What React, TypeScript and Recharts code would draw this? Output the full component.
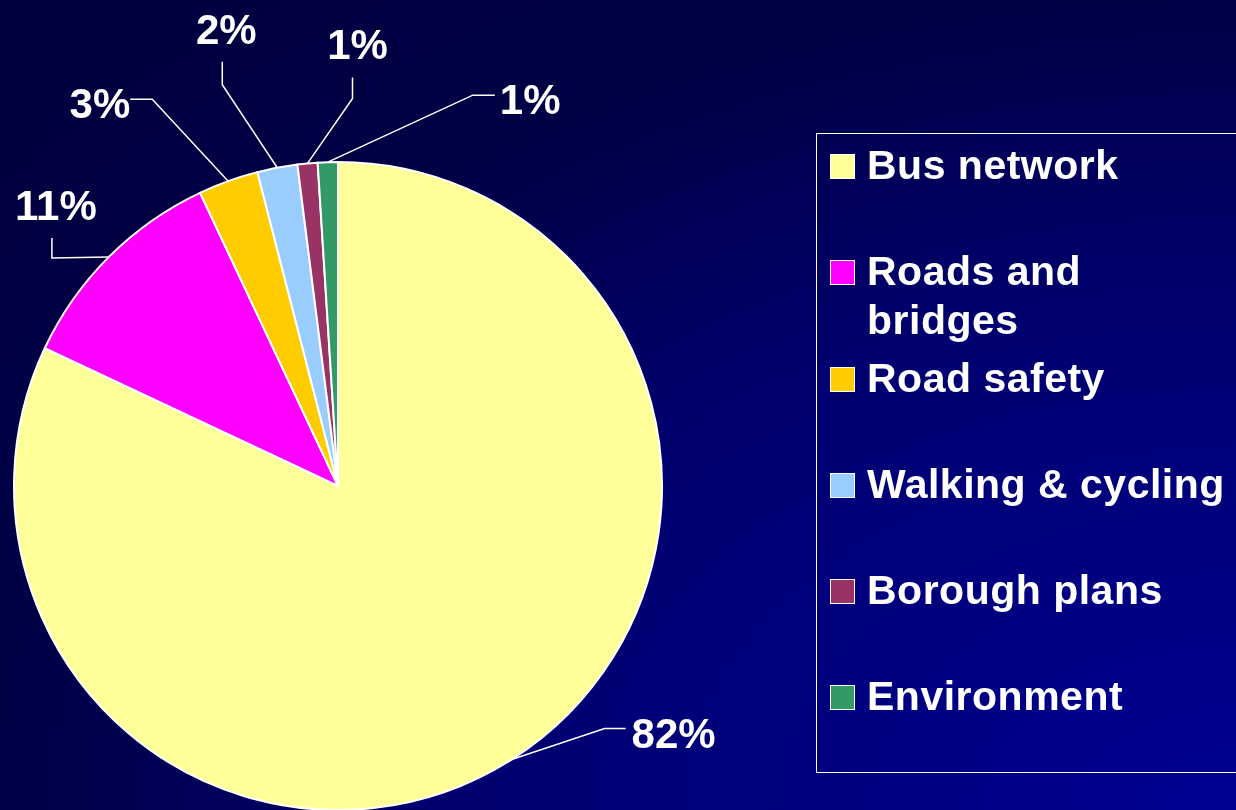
import React from "react";
import { PieChart, Pie, Cell, Legend } from "recharts";

// Share of spending by programme (pie + boxed legend on the right)

const categories = [
  "Bus network",
  "Roads and bridges",
  "Road safety",
  "Walking & cycling",
  "Borough plans",
  "Environment",
];
const shares = [82, 11, 3, 2, 1, 1];
const colors = ["#FFFF99", "#FF00FF", "#FFCC00", "#99CCFF", "#993366", "#339966"];

// Leader-line layout, relative to the point on the rim at each slice's mid angle:
// elbow, end of leader, text position and anchor.
const labelLayout = [
  { elbow: [93, -31], end: [114, -31], text: [120, -26], anchor: "start" },
  { elbow: [-57, 1], end: [-57, -19], text: [-53, -51], anchor: "middle" },
  { elbow: [-76, -82], end: [-98, -82], text: [-98, -78], anchor: "end" },
  { elbow: [-55, -83], end: [-55, -106], text: [-51, -138], anchor: "middle" },
  { elbow: [45, -65], end: [45, -86], text: [50, -119], anchor: "middle" },
  { elbow: [145, -67], end: [167, -67], text: [172, -63], anchor: "start" },
];

const FONT = "Arial, 'Liberation Sans', sans-serif";
const RADIAN = Math.PI / 180;

const data = categories.map((name, i) => ({ name, value: shares[i] }));

function renderLabel(props: any) {
  const { cx, cy, midAngle, outerRadius, percent, index } = props;
  const ax = cx + outerRadius * Math.cos(-midAngle * RADIAN);
  const ay = cy + outerRadius * Math.sin(-midAngle * RADIAN);
  const l = labelLayout[index];
  const pts = [
    [ax, ay],
    [ax + l.elbow[0], ay + l.elbow[1]],
    [ax + l.end[0], ay + l.end[1]],
  ];
  return (
    <g key={`lbl-${index}`}>
      <polyline
        points={pts.map((p) => p.join(",")).join(" ")}
        fill="none"
        stroke="#FFFFFF"
        strokeWidth={1.5}
      />
      <text
        x={ax + l.text[0]}
        y={ay + l.text[1]}
        textAnchor={l.anchor as any}
        dominantBaseline="central"
        fill="#FFFFFF"
        fontFamily={FONT}
        fontWeight="bold"
        fontSize={42}
      >
        {`${Math.round(percent * 100)}%`}
      </text>
    </g>
  );
}

function renderLegend() {
  return (
    <div
      style={{
        width: 430,
        height: 640,
        border: "1.5px solid #FFFFFF",
        boxSizing: "border-box",
        fontFamily: FONT,
      }}
    >
      {categories.map((name, i) => (
        <div
          key={name}
          style={{
            height: 106.3,
            display: "flex",
            alignItems: "flex-start",
            paddingTop: 7,
            boxSizing: "border-box",
          }}
        >
          <div
            style={{
              width: 23,
              height: 23,
              background: colors[i],
              border: "1px solid #FFFFFF",
              marginLeft: 13,
              marginTop: 13,
              flexShrink: 0,
            }}
          />
          <div
            style={{
              marginLeft: 12,
              width: 362,
              color: "#FFFFFF",
              fontWeight: "bold",
              fontSize: 41,
              letterSpacing: 0.5,
              lineHeight: "49px",
            }}
          >
            {name}
          </div>
        </div>
      ))}
    </div>
  );
}

export default function App() {
  return (
    <div
      style={{
        width: 1236,
        height: 810,
        overflow: "hidden",
        position: "fixed",
        left: 0,
        top: 0,
        background:
          "radial-gradient(ellipse farthest-corner at 100% 100%, #000092 0%, #000070 44%, #000046 71%, #00003E 100%)",
      }}
    >
      <PieChart width={1236} height={810} margin={{ top: 0, right: 0, bottom: 0, left: 0 }}>
        <Pie
          data={data}
          dataKey="value"
          nameKey="name"
          cx={338}
          cy={486}
          outerRadius={324}
          startAngle={90}
          endAngle={-270}
          stroke="#FFFFFF"
          strokeWidth={2}
          label={renderLabel}
          labelLine={false}
          isAnimationActive={false}
        >
          {data.map((d, i) => (
            <Cell key={d.name} fill={colors[i]} />
          ))}
        </Pie>
        <Legend
          layout="vertical"
          align="right"
          verticalAlign="top"
          content={renderLegend}
          wrapperStyle={{ left: 816, top: 133, width: 430, height: 640 }}
        />
      </PieChart>
    </div>
  );
}
